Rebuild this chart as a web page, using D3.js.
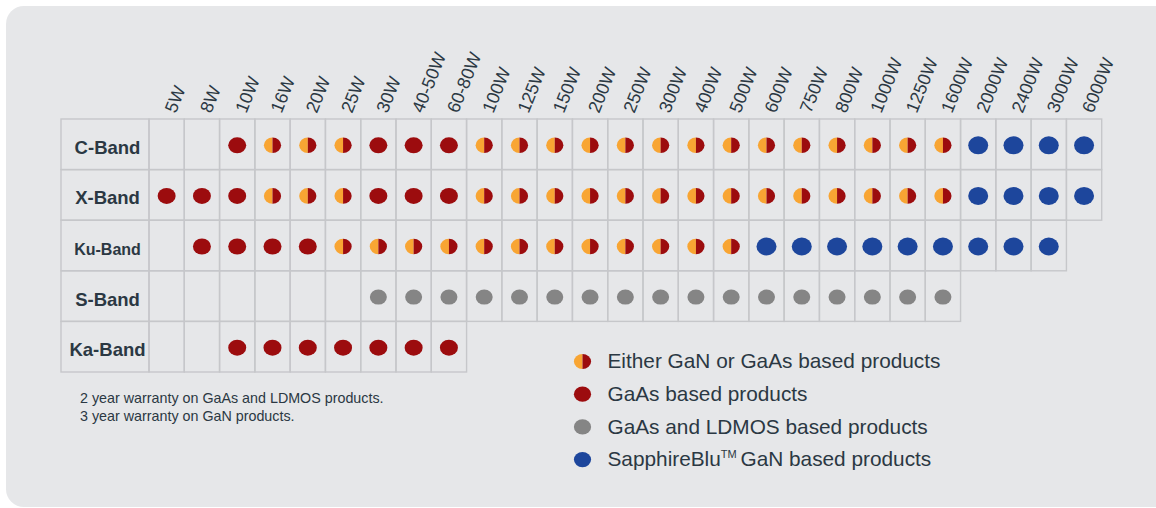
<!DOCTYPE html>
<html>
<head>
<meta charset="utf-8">
<script src="https://cdn.jsdelivr.net/npm/d3@7"></script>
<style>
    body { margin: 0; background: #ffffff; }
    svg { display: block; font-family: "Liberation Sans", Arial, sans-serif; }
</style>
</head>
<body>
<div id="band-chart"></div>
<script>
// Amplifier product matrix: frequency band vs output power

const powers = ["5W", "8W", "10W", "16W", "20W", "25W", "30W", "40-50W", "60-80W",
    "100W", "125W", "150W", "200W", "250W", "300W", "400W", "500W", "600W", "750W",
    "800W", "1000W", "1250W", "1600W", "2000W", "2400W", "3000W", "6000W"];

const bands = ["C-Band", "X-Band", "Ku-Band", "S-Band", "Ka-Band"];

// E = either GaN or GaAs, R = GaAs, G = GaAs and LDMOS, B = SapphireBlu GaN, "" = no product
const cBand = ["", "", "R", "E", "E", "E", "R", "R", "R", "E", "E", "E", "E", "E",
    "E", "E", "E", "E", "E", "E", "E", "E", "E", "B", "B", "B", "B"];
const xBand = ["R", "R", "R", "E", "E", "E", "R", "R", "R", "E", "E", "E", "E", "E",
    "E", "E", "E", "E", "E", "E", "E", "E", "E", "B", "B", "B", "B"];
const kuBand = ["", "R", "R", "R", "R", "E", "E", "E", "E", "E", "E", "E", "E", "E",
    "E", "E", "E", "B", "B", "B", "B", "B", "B", "B", "B", "B"];
const sBand = ["", "", "", "", "", "", "G", "G", "G", "G", "G", "G", "G", "G",
    "G", "G", "G", "G", "G", "G", "G", "G", "G"];
const kaBand = ["", "", "R", "R", "R", "R", "R", "R", "R"];

const legendKeys = ["E", "R", "G", "B"];
const legendLabels = ["Either GaN or GaAs based products", "GaAs based products",
    "GaAs and LDMOS based products", "SapphireBlu\u2122 GaN based products"];

const notes = ["2 year warranty on GaAs and LDMOS products.", "3 year warranty on GaN products."];

class BandMatrix {
    constructor() {
        this.width = 1156;
        this.height = 508;
        this.rows = [cBand, xBand, kuBand, sBand, kaBand];
        this.textColor = "#2b3843";
        this.lineColor = "#c6c7ca";
        this.colors = { orange: "#f8a533", red: "#9c0c0e", gray: "#858585", blue: "#1d469c" };
        // dot radii per product type
        this.radius = { E: [8.6, 7.8], R: [9, 8], G: [8.5, 7.5], B: [10, 9] };
        this.labelSize = { "Ku-Band": 16 };
        this.init();
    }

    init() {
        this.svg = d3.select("#band-chart")
            .append("svg")
            .attr("width", this.width)
            .attr("height", this.height);

        // grey rounded panel, running off the right edge
        this.svg.append("rect")
            .attr("x", 6).attr("y", 6)
            .attr("width", 1180).attr("height", 501)
            .attr("rx", 18)
            .attr("fill", "#e6e7e9");

        this.x = d3.scaleBand().domain(powers).range([149, 1101.7]);
        this.y = d3.scaleBand().domain(bands).range([119, 372]);

        this.drawGrid();
        this.drawHeaders();
        this.drawDots();
        this.drawLegend();
        this.drawNotes();
    }

    drawGrid() {
        const grid = this.svg.append("g")
            .attr("fill", "none")
            .attr("stroke", this.lineColor)
            .attr("stroke-width", 1.4);

        const cells = [];
        bands.forEach((band, i) => {
            this.rows[i].forEach((code, j) => cells.push({ band, power: powers[j] }));
        });

        grid.selectAll(".cell")
            .data(cells)
            .join("rect")
            .attr("class", "cell")
            .attr("x", d => this.x(d.power))
            .attr("y", d => this.y(d.band))
            .attr("width", this.x.bandwidth())
            .attr("height", this.y.bandwidth());

        grid.selectAll(".label-cell")
            .data(bands)
            .join("rect")
            .attr("class", "label-cell")
            .attr("x", 61)
            .attr("y", d => this.y(d))
            .attr("width", this.x.range()[0] - 61)
            .attr("height", this.y.bandwidth());

        this.svg.selectAll(".band-label")
            .data(bands)
            .join("text")
            .attr("class", "band-label")
            .attr("x", 107.5)
            .attr("y", d => this.y(d) + this.y.bandwidth() / 2 + 9.5)
            .attr("text-anchor", "middle")
            .attr("font-weight", "bold")
            .attr("font-size", d => this.labelSize[d] || 18.5)
            .attr("fill", this.textColor)
            .text(d => d);
    }

    drawHeaders() {
        this.svg.selectAll(".power-label")
            .data(powers)
            .join("text")
            .attr("class", "power-label")
            .attr("transform", d => `translate(${this.x(d) + this.x.bandwidth() / 2 + 9}, 114) rotate(-68)`)
            .attr("font-size", 18)
            .attr("fill", this.textColor)
            .text(d => d);
    }

    dot(sel, code, cx, cy, rx, ry) {
        if (code === "E") {
            sel.append("path")
                .attr("d", `M${cx},${cy - ry}A${rx},${ry} 0 0 0 ${cx},${cy + ry}Z`)
                .attr("fill", this.colors.orange);
            sel.append("path")
                .attr("d", `M${cx},${cy - ry}A${rx},${ry} 0 0 1 ${cx},${cy + ry}Z`)
                .attr("fill", this.colors.red);
        } else {
            const fill = { R: this.colors.red, G: this.colors.gray, B: this.colors.blue }[code];
            sel.append("ellipse")
                .attr("cx", cx).attr("cy", cy)
                .attr("rx", rx).attr("ry", ry)
                .attr("fill", fill);
        }
    }

    drawDots() {
        const g = this.svg.append("g");
        bands.forEach((band, i) => {
            this.rows[i].forEach((code, j) => {
                if (!code) return;
                const cx = this.x(powers[j]) + this.x.bandwidth() / 2;
                const cy = this.y(band) + this.y.bandwidth() / 2 + 1;
                const [rx, ry] = this.radius[code];
                this.dot(g.append("g"), code, cx, cy, rx, ry);
            });
        });
    }

    drawLegend() {
        const ly = d3.scalePoint().domain(legendKeys).range([368.3, 466.4]);
        const legend = this.svg.append("g");

        legendKeys.forEach((key, i) => {
            const base = ly(key);
            this.dot(legend.append("g"), key, 582.5, base - 6.8, 8.6, 7.6);

            const label = legend.append("text")
                .attr("x", 607.5)
                .attr("y", base)
                .attr("font-size", 20.8)
                .attr("fill", this.textColor);

            const parts = legendLabels[i].split("\u2122");
            label.append("tspan").text(parts[0]);
            if (parts.length > 1) {
                label.append("tspan")
                    .attr("font-size", 11)
                    .attr("dy", -8)
                    .text("TM");
                label.append("tspan")
                    .attr("dy", 8)
                    .attr("dx", -2)
                    .text(parts[1]);
            }
        });
    }

    drawNotes() {
        this.svg.selectAll(".note")
            .data(notes)
            .join("text")
            .attr("class", "note")
            .attr("x", 80)
            .attr("y", (d, i) => 403.3 + i * 17.4)
            .attr("font-size", 14.3)
            .attr("fill", this.textColor)
            .text(d => d);
    }
}

document.addEventListener("DOMContentLoaded", function() {
    new BandMatrix();
});
</script>
</body>
</html>
